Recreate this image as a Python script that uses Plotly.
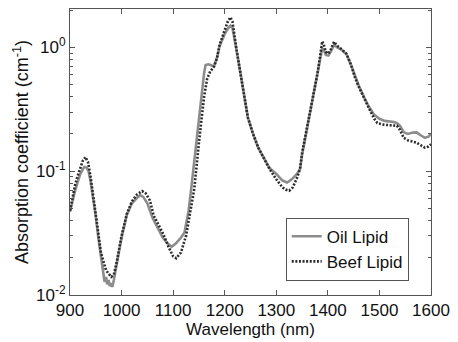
import plotly.graph_objects as go

# Absorption spectra of two lipid samples (wavelength in nm, coefficient in cm^-1)
oil_wl = [900, 905, 910, 915, 920, 925, 928, 932, 936, 940, 945, 950, 955, 960, 964,
          967, 970, 972, 975, 977, 980, 982, 985, 990, 1000, 1010, 1020, 1030, 1036,
          1042, 1050, 1060, 1070, 1080, 1090, 1097, 1105, 1115, 1122, 1130, 1135, 1140,
          1145, 1150, 1155, 1160, 1163, 1168, 1173, 1179, 1185, 1190, 1200, 1206, 1211,
          1215, 1223, 1230, 1236, 1245, 1255, 1265, 1274, 1287, 1300, 1312, 1321, 1330,
          1340, 1346, 1350, 1360, 1370, 1375, 1380, 1385, 1389, 1392, 1396, 1401, 1406,
          1412, 1418, 1426, 1436, 1445, 1452, 1460, 1471, 1480, 1490, 1500, 1510, 1520,
          1528, 1534, 1540, 1547, 1555, 1565, 1572, 1580, 1588, 1595, 1600]
oil_abs = [0.047, 0.058, 0.070, 0.082, 0.095, 0.104, 0.108, 0.107, 0.100, 0.082, 0.060,
           0.043, 0.029, 0.021, 0.016, 0.0128, 0.0140, 0.0122, 0.0132, 0.0118, 0.0125,
           0.0116, 0.0132, 0.0170, 0.029, 0.044, 0.055, 0.061, 0.064, 0.062, 0.055, 0.042,
           0.035, 0.029, 0.026, 0.0245, 0.026, 0.029, 0.032, 0.048, 0.072, 0.11, 0.17,
           0.27, 0.42, 0.62, 0.72, 0.73, 0.72, 0.70, 0.82, 1.02, 1.28, 1.42, 1.50, 1.44,
           0.95, 0.65, 0.45, 0.27, 0.20, 0.155, 0.132, 0.106, 0.095, 0.084, 0.081, 0.086,
           0.095, 0.104, 0.135, 0.225, 0.37, 0.46, 0.60, 0.80, 0.98, 0.96, 0.87, 0.86, 0.93,
           1.05, 1.0, 0.96, 0.88, 0.72, 0.59, 0.49, 0.39, 0.33, 0.285, 0.265, 0.255, 0.253,
           0.25, 0.245, 0.232, 0.207, 0.200, 0.205, 0.206, 0.195, 0.186, 0.190, 0.200]

beef_wl = [900, 905, 910, 915, 920, 925, 930, 935, 940, 945, 950, 955, 960, 970, 980,
           985, 990, 1000, 1010, 1020, 1030, 1040, 1047, 1055, 1062, 1070, 1081, 1090,
           1100, 1106, 1115, 1125, 1135, 1141, 1150, 1155, 1160, 1166, 1172, 1179, 1185,
           1190, 1200, 1206, 1211, 1215, 1223, 1230, 1236, 1245, 1255, 1265, 1274, 1287,
           1300, 1312, 1318, 1325, 1332, 1340, 1346, 1350, 1360, 1370, 1375, 1380, 1385,
           1389, 1392, 1396, 1401, 1406, 1412, 1418, 1426, 1436, 1445, 1452, 1460, 1471,
           1480, 1490, 1496, 1509, 1520, 1528, 1534, 1540, 1547, 1555, 1565, 1572, 1580,
           1588, 1595, 1600]
beef_abs = [0.048, 0.062, 0.078, 0.092, 0.108, 0.122, 0.130, 0.118, 0.090, 0.064, 0.045,
            0.031, 0.022, 0.0158, 0.0140, 0.0146, 0.0180, 0.030, 0.045, 0.057, 0.065,
            0.069, 0.066, 0.058, 0.044, 0.038, 0.031, 0.025, 0.0205, 0.0198, 0.022, 0.030,
            0.050, 0.072, 0.17, 0.277, 0.40, 0.56, 0.64, 0.695, 0.82, 1.05, 1.38, 1.62,
            1.75, 1.62, 0.95, 0.65, 0.45, 0.27, 0.20, 0.155, 0.132, 0.104, 0.086, 0.074,
            0.071, 0.0696, 0.074, 0.088, 0.104, 0.14, 0.23, 0.37, 0.47, 0.62, 0.85, 1.12,
            1.06, 0.92, 0.89, 0.97, 1.11, 1.03, 0.97, 0.89, 0.72, 0.58, 0.48, 0.38, 0.32,
            0.265, 0.245, 0.237, 0.236, 0.235, 0.233, 0.215, 0.186, 0.178, 0.174, 0.170,
            0.162, 0.155, 0.158, 0.165]

x_ticks = [900, 1000, 1100, 1200, 1300, 1400, 1500, 1600]
y_ticks = [0.01, 0.1, 1]
y_tick_text = ["10<sup>-2</sup>", "10<sup>-1</sup>", "10<sup>0</sup>"]

FONT = "Liberation Sans, Arial, sans-serif"
AXIS_COLOR = "#555555"

fig = go.Figure()
fig.add_trace(go.Scatter(
    x=oil_wl, y=oil_abs, mode="lines", name="Oil Lipid",
    line=dict(color="#8c8c8c", width=2.6),
))
fig.add_trace(go.Scatter(
    x=beef_wl, y=beef_abs, mode="lines", name="Beef Lipid",
    line=dict(color="#2b2b2b", width=2.6, dash="2px,1.6px"),
))

fig.update_xaxes(
    range=[900, 1600], tickvals=x_ticks, ticks="inside", ticklen=5,
    showline=True, linecolor=AXIS_COLOR, linewidth=1, mirror="ticks",
    tickcolor=AXIS_COLOR, showgrid=False, zeroline=False,
    tickfont=dict(size=17, color="#111111", family=FONT),
    title=dict(text="Wavelength (nm)", font=dict(size=17, color="#111111", family=FONT),
               standoff=2),
)
fig.update_yaxes(
    type="log", range=[-2, 0.31], tickvals=y_ticks, ticktext=y_tick_text,
    ticks="inside", ticklen=5, showline=True, linecolor=AXIS_COLOR, linewidth=1,
    mirror="ticks", tickcolor=AXIS_COLOR, showgrid=False, zeroline=False,
    minor=dict(ticks="inside", ticklen=3, tickcolor=AXIS_COLOR,
               tickvals=[v * m for v in (0.01, 0.1, 1) for m in range(2, 10)],
               showgrid=False),
    tickfont=dict(size=17, color="#111111", family=FONT),
    title=dict(text="Absorption coefficient (cm<sup>-1</sup>)",
               font=dict(size=18, color="#111111", family=FONT), standoff=2),
)

fig.update_layout(
    width=458, height=342,
    margin=dict(l=70, r=20, t=8, b=45),
    paper_bgcolor="white", plot_bgcolor="white",
    showlegend=True,
    legend=dict(
        x=0.768, y=0.16, xanchor="center", yanchor="middle",
        bgcolor="white", bordercolor="#555555", borderwidth=1,
        font=dict(size=17, color="#111111", family=FONT),
        tracegroupgap=0, itemwidth=30,
    ),
)

fig.write_html("out.html")
